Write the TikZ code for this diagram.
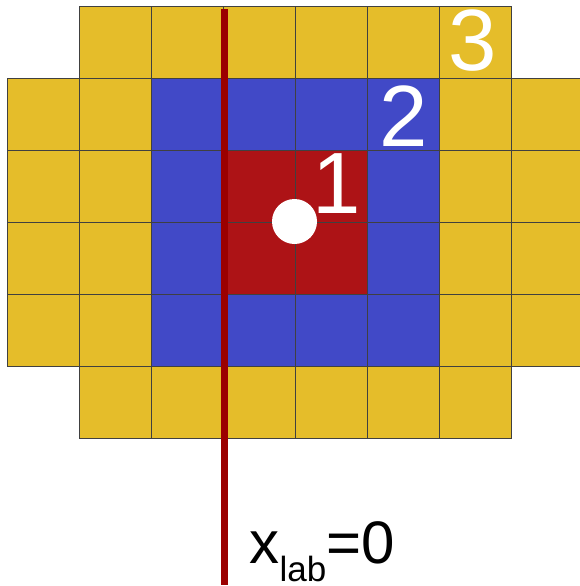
\documentclass[tikz,border=0pt]{standalone}
\usepackage{fontspec}
\setmainfont{Liberation Sans}
\definecolor{cY}{RGB}{229,189,42}
\definecolor{cB}{RGB}{65,73,199}
\definecolor{cR}{RGB}{173,19,22}
\definecolor{cline}{RGB}{155,0,0}
\begin{document}
\begin{tikzpicture}[x=1pt,y=-1pt,
  cellbox/.style={draw=black!75,line width=0.9pt},
  numlabel/.style={text=white,inner sep=0pt,font=\fontsize{87}{87}\selectfont}]
\useasboundingbox (0,0) rectangle (580,586);
\begin{scope}
\clip (0,0) rectangle (580,586);
% rows: Y=yellow, B=blue, R=red, -=empty
\foreach \row [count=\j from 0] in {{-,Y,Y,Y,Y,Y,Y,-},{Y,Y,B,B,B,B,Y,Y},{Y,Y,B,R,R,B,Y,Y},{Y,Y,B,R,R,B,Y,Y},{Y,Y,B,B,B,B,Y,Y},{-,Y,Y,Y,Y,Y,Y,-}}{
  \foreach \c [count=\i from 0] in \row {
    \if\c- \else \filldraw[cellbox,fill=c\c] (7.5+72*\i,6.5+72*\j) rectangle ++(72,72);\fi
  }
}
\end{scope}
% white circle
\fill[white] (294.5,221.5) circle (22.5);
% vertical line
\coordinate (ltop) at (224.5,9);
\coordinate (lbot) at (224.5,585);
\draw[cline,line width=7pt] (ltop) -- (lbot);
% labels
\node[numlabel] (one) at (336.5,184) {1};
\node[numlabel] (two) at (404,116) {2};
\node[numlabel] (three) at (472.5,40.5) {3};
\node[anchor=base west,inner sep=0pt,font=\fontsize{60}{60}\selectfont] (xlab) at (249.5,563)
  {x\raisebox{-18pt}{\fontsize{35}{35}\selectfont lab}=0};
\end{tikzpicture}
\end{document}
